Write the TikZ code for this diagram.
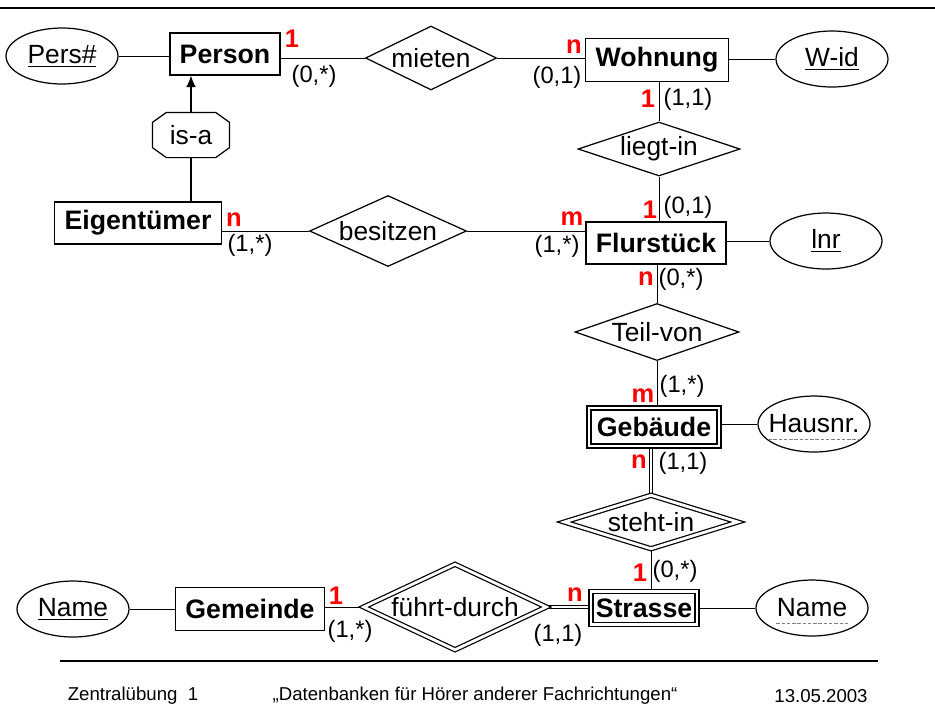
\documentclass[tikz,border=0pt]{standalone}
\usepackage{fontspec}
\setmainfont{Liberation Sans}
\usetikzlibrary{shapes.geometric,arrows.meta,backgrounds}

\begin{document}
\begin{tikzpicture}[x=0.02cm, y=-0.02cm, >={Latex[length=6.5pt,width=5.5pt]}, line width=0.7pt,
  every node/.style={font=\fontsize{15}{17}\selectfont, inner sep=0pt},
  entity/.style={draw, rectangle, fill=white, font=\fontsize{15.2}{17}\selectfont\bfseries},
  weak/.style={entity, double, double distance=1.6pt},
  rel/.style={draw, diamond, fill=white, aspect=2},
  weakrel/.style={rel, double, double distance=1.6pt},
  attr/.style={draw, ellipse, fill=white, minimum width=2.24cm, minimum height=1.12cm,
    font=\fontsize{15}{17}\selectfont},
  isabox/.style={rectangle, minimum width=1.52cm, minimum height=0.88cm},
  card/.style={font=\fontsize{13.5}{15}\selectfont},
  num/.style={text=red, font=\fontsize{14.5}{17}\selectfont\bfseries},
  pkey/.style={gray, line width=0.6pt, dash pattern=on 2pt off 1pt},
  foot/.style={font=\fontsize{10.6}{12}\selectfont}]

\useasboundingbox (0,0) rectangle (935,718);
\draw[line width=1.6pt] (0,8) -- (935,8);

% entities and relationships
\node[attr] (pers) at (62,56) {\underline{Pers\#}};
\node[entity, minimum width=2.2cm, minimum height=0.84cm] (person) at (225,54) {Person};
\node[rel, minimum width=2.62cm, minimum height=1.28cm] (mieten) at (431,58) {mieten};
\node[entity, minimum width=2.86cm, minimum height=0.86cm] (wohn) at (657,60) {Wohnung};
\node[attr] (wid) at (832,59) {\underline{W-id}};
\node[rel, aspect=3, minimum width=3.24cm, minimum height=1.08cm] (liegt) at (659,149) {liegt-in};
\node[isabox] (isa) at (191,135) {is-a};
\node[entity, minimum width=3.34cm, minimum height=0.84cm] (eig) at (138,223) {Eigentümer};
\node[rel, minimum width=3.14cm, minimum height=1.42cm] (bes) at (388,231) {besitzen};
\node[entity, minimum width=2.8cm, minimum height=0.84cm] (flur) at (656,243) {Flurstück};
\node[attr] (lnr) at (826,241) {\underline{lnr}};
\node[rel, aspect=3, minimum width=3.28cm, minimum height=1.14cm] (teil) at (657,332) {Teil-von};
\node[weak, minimum width=2.6cm, minimum height=0.76cm] (geb) at (654,427) {Gebäude};
\node[attr] (hn) at (814,424) {};
\node[inner ysep=3pt] (hntxt) at (hn) {Hausnr.};
\node[weakrel, aspect=3, minimum width=3.48cm, minimum height=1.08cm] (steht) at (651,522) {steht-in};
\node[weak, minimum width=2.12cm, minimum height=0.66cm] (str) at (644,608) {Strasse};
\node[attr] (sname) at (812,608) {};
\node[inner ysep=3pt] (snametxt) at (sname) {Name};
\node[weakrel, minimum width=3.66cm, minimum height=1.72cm] (fd) at (455,607) {führt-durch};
\node[entity, minimum width=2.98cm, minimum height=0.86cm] (gem) at (250,609) {Gemeinde};
\node[attr] (gname) at (73,609) {\underline{Name}};

% octagon round is-a
\draw ([xshift=0.28cm]isa.north west) -- ([xshift=-0.28cm]isa.north east)
  -- ([yshift=-0.2cm]isa.north east) -- ([yshift=0.2cm]isa.south east)
  -- ([xshift=-0.28cm]isa.south east) -- ([xshift=0.28cm]isa.south west)
  -- ([yshift=0.2cm]isa.south west) -- ([yshift=-0.2cm]isa.north west) -- cycle;

\draw[pkey] (hntxt.south west) -- (hntxt.south east);
\draw[pkey] (snametxt.south west) -- (snametxt.south east);

\begin{scope}[on background layer]
\draw (pers) -- (person |- pers);
\draw (person |- mieten) -- (mieten) -- (wohn |- mieten);
\draw (wohn |- wid) -- (wid);
\draw (wohn -| liegt) -- (liegt) -- (flur -| liegt);
\draw (flur |- lnr) -- (lnr);
\draw (eig |- bes) -- (bes) -- (flur |- bes);
\draw (flur -| teil) -- (teil) -- (geb -| teil);
\draw (geb |- hn) -- (hn);
\draw[double, double distance=1.6pt] (geb -| steht) -- (steht);
\draw (steht) -- (str -| steht);
\draw (str |- sname) -- (sname);
\draw[double, double distance=1.6pt] (fd) -- (str |- fd);
\draw (gname) -- (gem |- gname);
\draw (gem |- fd) -- (fd);
\end{scope}
\draw (eig.north -| isa) -- (isa.south);
\draw[->] (isa.north) -- (person.south -| isa);

% cardinalities
\node[num] (c1) at (292,39) {1};
\node[card] (k1) at (314,76) {(0,*)};
\node[num] (c2) at (574,47) {n};
\node[card] (k2) at (557,77) {(0,1)};
\node[num] (c3) at (648,99) {1};
\node[card] (k3) at (688,99) {(1,1)};
\node[num] (c4) at (650,210) {1};
\node[card] (k4) at (688,207) {(0,1)};
\node[num] (c5) at (234,220) {n};
\node[card] (k5) at (250,245) {(1,*)};
\node[num] (c6) at (572,219) {m};
\node[card] (k6) at (557,246) {(1,*)};
\node[num] (c7) at (646,279) {n};
\node[card] (k7) at (681,279) {(0,*)};
\node[num] (c8) at (643,396) {m};
\node[card] (k8) at (682,386) {(1,*)};
\node[num] (c9) at (639,462) {n};
\node[card] (k9) at (683,463) {(1,1)};
\node[num] (c10) at (640,573) {1};
\node[card] (k10) at (675,571) {(0,*)};
\node[num] (c11) at (575,595) {n};
\node[card] (k11) at (558,635) {(1,1)};
\node[num] (c12) at (336,596) {1};
\node[card] (k12) at (350,631) {(1,*)};

% footer
\draw[line width=0.8pt] (60,661) -- (878,661);
\node[foot] (f1) at (133,696) {Zentralübung~~1};
\node[foot] (f2) at (475,696) {„Datenbanken für Hörer anderer Fachrichtungen“};
\node[foot] (f3) at (821,696) {13.05.2003};
\end{tikzpicture}
\end{document}
